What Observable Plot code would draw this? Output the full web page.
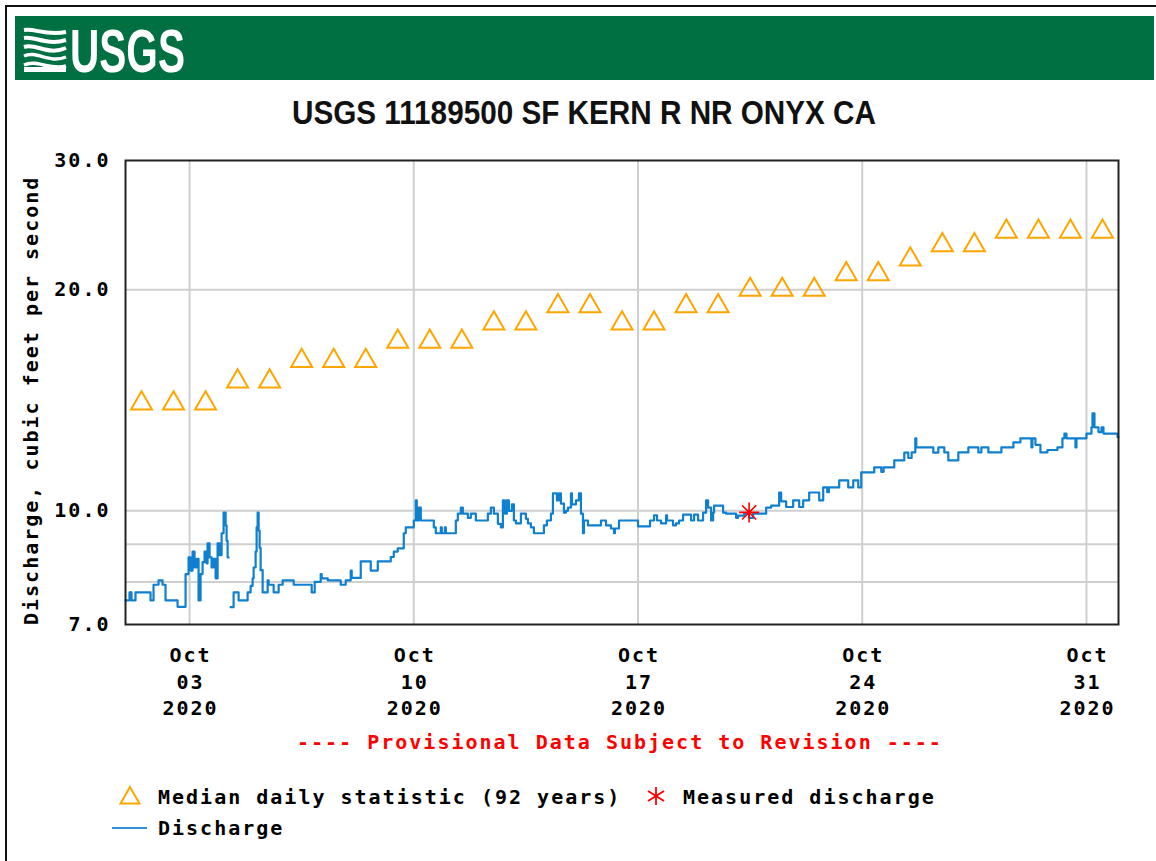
<!DOCTYPE html>
<html><head><meta charset="utf-8">
<script src="https://cdn.jsdelivr.net/npm/d3@7"></script>
<script src="https://cdn.jsdelivr.net/npm/@observablehq/plot@0.6"></script>
<style>
html,body{margin:0;padding:0;background:#fff;}
#wrap{position:relative;width:1156px;height:861px;overflow:hidden;}
.mono{position:absolute;font-family:"DejaVu Sans Mono",monospace;font-weight:bold;font-size:20px;letter-spacing:2px;line-height:20px;white-space:pre;color:#000;}
#chart{position:absolute;left:0;top:0;}
#chart svg text{letter-spacing:2px;}
</style></head><body>
<div id="wrap">
  <div style="position:absolute;left:5px;top:5px;width:1170px;height:900px;border:2px solid #111;"></div>
  <div id="chart"></div>
  <div style="position:absolute;left:15px;top:16px;width:1139px;height:64px;background:#006F41;">
    <svg width="200" height="90" style="position:absolute;left:0;top:-13px;overflow:visible;">
      <g transform="translate(0,13)">
        <g fill="none" stroke="#fff" stroke-linecap="butt">
          <path d="M9,14 C20,12 30,20 51,16" stroke-width="4"/>
          <path d="M9,22 C20,20 32,30 51,24" stroke-width="4"/>
          <path d="M9,31 C22,27 32,40 51,32" stroke-width="4"/>
          <path d="M9,40 C22,34 34,48 51,41" stroke-width="3.5"/>
          <path d="M9,49 C22,43 36,55 51,50" stroke-width="3.5"/>
        </g>
        <rect x="9" y="51" width="42" height="5" fill="#fff"/>
        <text x="55" y="56" font-family="Liberation Sans, Arial, sans-serif" font-weight="bold" font-size="62" fill="#fff" textLength="115" lengthAdjust="spacingAndGlyphs">USGS</text>
      </g>
    </svg>
  </div>
  <svg width="1156" height="140" style="position:absolute;left:0;top:0;pointer-events:none;">
    <text id="title" x="584" y="124" text-anchor="middle" font-family="Liberation Sans, Arial, sans-serif" font-weight="bold" font-size="33" fill="#111" textLength="584" lengthAdjust="spacingAndGlyphs"></text>
  </svg>
  <div id="ylabel" class="mono" style="left:-193px;top:391px;width:448px;text-align:center;transform:rotate(-90deg);transform-origin:50% 50%;"></div>
  <div id="prov" class="mono" style="left:297px;top:732px;color:#ff0000;"></div>
  <svg width="30" height="24" style="position:absolute;left:116px;top:784px;">
    <polygon points="14,3 23.5,19.5 4.5,19.5" fill="none" stroke="#ffa500" stroke-width="2"/>
  </svg>
  <div id="leg1" class="mono" style="left:158px;top:787px;"></div>
  <svg width="24" height="24" style="position:absolute;left:644px;top:784px;">
    <g stroke="#ff0000" stroke-width="1.8"><line x1="12" y1="3" x2="12" y2="21"/><line x1="4" y1="7" x2="20" y2="17"/><line x1="4" y1="17" x2="20" y2="7"/></g>
  </svg>
  <div id="leg2" class="mono" style="left:683px;top:787px;"></div>
  <svg width="40" height="10" style="position:absolute;left:110px;top:823px;">
    <line x1="2" y1="5" x2="37" y2="5" stroke="#2f8fdb" stroke-width="2"/>
  </svg>
  <div id="leg3" class="mono" style="left:158px;top:818px;"></div>
</div>
<script>
// ---- text ----
const titleText = "USGS 11189500 SF KERN R NR ONYX CA";
const yLabelText = "Discharge, cubic feet per second";
const provisionalText = "---- Provisional Data Subject to Revision ----";
const legendMedian = "Median daily statistic (92 years)";
const legendMeasured = "Measured discharge";
const legendDischarge = "Discharge";

// ---- ticks ----
const yTickValues = [7, 10, 20, 30];
const yGridValues = [8, 9, 10, 20];
const xTickDays = [3, 10, 17, 24, 31]; // October 2020

// ---- median daily statistic (Oct 1..31), cfs ----
const medianDays = [1,2,3,4,5,6,7,8,9,10,11,12,13,14,15,16,17,18,19,20,21,22,23,24,25,26,27,28,29,30,31];
const medianCfs = [14,14,14,15,15,16,16,16,17,17,17,18,18,19,19,18,18,19,19,20,20,20,21,21,22,23,23,24,24,24,24];

// ---- measured discharge ----
const measuredHours = [467.25];
const measuredCfs = [9.95];

// ---- discharge (hours since 2020-10-01 00:00, cfs); NaN = missing ----
const dischargeHours = [0,3,4.5,7.5,18.75,21,24.75,27.75,30,39,45,47.25,48.75,50.25,51.75,53.25,54.75,56.25,57.75,59.25,60.75,61.5,63,64.5,66,67.5,69,70.5,72,73.5,75,75.75,76.5,77.25,77.5,
78.75,81,84.75,91.5,93.75,95.25,96,97.5,98.25,99,99.75,100.5,101.25,102.75,106.5,107.25,111,114.75,117.75,126,139.5,141.75,146.25,147,151.5,161.25,165,168.75,169.5,176.25,183.75,189,198.75,201,204,208.5,210,
216,217.5,218.25,219.75,221.25,231,232.5,236.25,237,239.25,240,247.5,249,251.25,252.75,256.5,258.75,262.5,271.5,273.75,276,279,281.25,282.75,284.25,285.75,287.25,289.5,291,292.5,296.25,300,301.5,303.75,306,
313.5,315.75,318.75,320.25,323.25,324.75,326.25,328.5,330,331.5,333.75,334.5,337.5,339.75,341.25,342.75,343.5,346.5,356.25,360,363.75,366,366.75,369.75,384,393,396,398.25,401.25,405,405.75,410.25,412.5,414.75,
417.75,423.75,426,429,432.75,435,436.5,438.75,440.25,441,447.75,450,457.5,459,463.5,467.25,470.25,480,483.75,489.75,491.25,495,500.25,504.75,507.75,512.25,519.75,522.75,525.75,527,534.75,541.5,545.25,549,
551.25,561,566.25,568,576,583.5,586.5,589,591.75,592.5,605.25,609,613.5,616.5,624,631.5,639,641.25,646.5,656.25,665.25,670.5,678.75,679.5,681.75,685.5,690.75,698.25,702,703.5,705,711.75,712.5,720,723.75,
724.5,726,729,731.25,732.75,743.25,744];
const dischargeCfs = [7.55,7.74,7.55,7.74,7.55,7.93,8.04,7.93,7.55,7.40,8.2,8.64,8.29,8.8,8.37,8.6,7.55,8.2,8.51,8.8,8.48,9.03,8.64,8.37,8.6,8.09,9.03,8.7,9.32,9.94,9.55,9.1,8.64,8.64,NaN,
7.39,7.74,7.55,7.74,7.9,8.09,8.37,8.8,9.5,9.94,9.4,8.9,8.3,7.74,8.04,7.93,7.74,7.93,8.04,7.93,7.74,8.0,8.2,8.09,8.04,7.93,8.04,8.29,8.1,8.53,8.29,8.53,8.65,8.80,8.89,9.32,9.49,
9.7,10.33,9.7,10.1,9.7,9.49,9.32,9.49,9.32,9.49,9.32,9.7,9.91,10.1,9.91,9.78,9.91,9.7,9.91,10.1,9.91,9.6,9.49,10.33,9.91,10.33,10.0,10.2,9.7,9.61,9.91,9.75,9.61,9.49,9.32,
9.55,9.7,9.91,10.56,10.33,10.56,10.23,9.94,10.0,10.1,10.56,10.2,10.33,10.56,9.91,9.32,9.7,9.55,9.7,9.55,9.46,9.32,9.46,9.7,9.52,9.7,9.86,9.7,9.61,9.86,9.7,9.55,9.61,9.7,
9.88,9.7,9.88,9.7,9.94,10.33,10.1,9.7,9.94,10.16,9.94,9.91,9.78,9.85,9.91,9.78,9.91,10.1,10.16,10.59,10.3,10.12,10.33,10.12,10.33,10.59,10.33,10.76,10.6,10.76,11.0,10.76,11.0,10.76,
11.28,11.46,11.3,11.46,11.71,12.0,11.8,12.01,12.55,12.2,12.0,12.2,12.01,11.71,12.01,12.2,12.01,12.2,12.01,12.2,12.39,12.55,12.2,12.55,12.3,12.01,12.1,12.2,12.55,12.74,12.55,12.2,12.55,12.74,12.99,
13.57,12.99,12.8,12.99,12.74,12.6,12.6];

// ---- build tables ----
const start = Date.UTC(2020, 9, 1);
const HOUR = 3600e3;
const discharge = dischargeHours.map((h, i) => ({date: new Date(start + h * HOUR), cfs: dischargeCfs[i]}));
const median = medianDays.map((d, i) => ({date: new Date(Date.UTC(2020, 9, d, 12)), cfs: medianCfs[i]}));
const measured = measuredHours.map((h, i) => ({date: new Date(start + h * HOUR), cfs: measuredCfs[i]}));
const xTickDates = xTickDays.map(d => new Date(Date.UTC(2020, 9, d)));

const star = {
  draw(context, size) {
    const r = Math.sqrt(size / Math.PI);
    for (let k = 0; k < 4; k++) {
      const a = k * Math.PI / 4;
      context.moveTo(-r * Math.cos(a), -r * Math.sin(a));
      context.lineTo(r * Math.cos(a), r * Math.sin(a));
    }
  }
};

const fmtX = d => `${d3.utcFormat("%b")(d)}\n${d3.utcFormat("%d")(d)}\n${d3.utcFormat("%Y")(d)}`;

const chart = Plot.plot({
  width: 1156,
  height: 730,
  marginLeft: 125,
  marginRight: 38,
  marginTop: 160,
  marginBottom: 106,
  style: {fontFamily: "DejaVu Sans Mono, monospace", fontSize: "20px", fontWeight: "bold", color: "#000", background: "transparent", overflow: "visible"},
  x: {type: "utc", domain: [new Date(start), new Date(Date.UTC(2020, 10, 1))]},
  y: {type: "log", domain: [7, 30]},
  marks: [
    Plot.gridY(yGridValues, {stroke: "#cfcfcf", strokeOpacity: 1, strokeWidth: 2}),
    Plot.gridX(xTickDates, {stroke: "#cfcfcf", strokeOpacity: 1, strokeWidth: 2}),
    Plot.axisY(yTickValues, {tickSize: 0, tickPadding: 15, tickFormat: d3.format(".1f"), label: null, fill: "#000"}),
    Plot.axisX(xTickDates, {tickSize: 0, tickPadding: 19, tickFormat: fmtX, label: null, lineHeight: 1.32, fill: "#000", dx: 1}),
    Plot.line(discharge, {x: "date", y: "cfs", curve: "step-after", stroke: "#0f7fcf", strokeWidth: 2.2}),
    Plot.dot(median, {x: "date", y: "cfs", symbol: "triangle", r: 7.8, stroke: "#ffa500", strokeWidth: 2, fill: "none"}),
    Plot.dot(measured, {x: "date", y: "cfs", symbol: star, r: 10, stroke: "#ff0000", strokeWidth: 1.6, fill: "none"}),
    Plot.frame({stroke: "#222", strokeWidth: 2})
  ]
});
document.getElementById("chart").appendChild(chart);

document.getElementById("title").textContent = titleText;
document.getElementById("ylabel").textContent = yLabelText;
document.getElementById("prov").textContent = provisionalText;
document.getElementById("leg1").textContent = legendMedian;
document.getElementById("leg2").textContent = legendMeasured;
document.getElementById("leg3").textContent = legendDischarge;
</script>
</body></html>
